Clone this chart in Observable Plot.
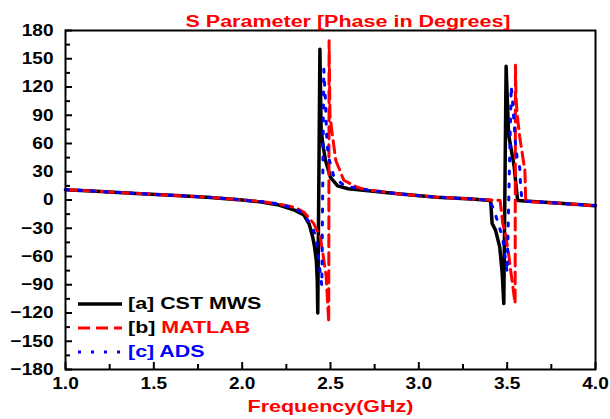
<!DOCTYPE html>
<html>
<head>
<meta charset="utf-8">
<script src="https://cdn.jsdelivr.net/npm/d3@7"></script>
<script src="https://cdn.jsdelivr.net/npm/@observablehq/plot@0.6"></script>
<style>
  html, body { margin: 0; padding: 0; background: #fff; }
  #wrap { position: relative; width: 610px; height: 419px; font-family: "Liberation Sans", Arial, sans-serif; }
  #legend { position: absolute; left: 76px; top: 292px; font-weight: bold; font-size: 17px; line-height: 24px; }
  #legend .row { display: flex; align-items: center; height: 24px; }
  #legend svg { margin-right: 6px; }
  #legend .lbl { display: inline-block; transform: scaleX(1.26); transform-origin: 0 50%; white-space: nowrap; }
</style>
</head>
<body>
<div id="wrap"><div id="legend"></div></div>
<script>
// ---- data ----
const titleText = "S Parameter [Phase in Degrees]";
const xLabel = "Frequency(GHz)";
const xTicks = [1.0, 1.5, 2.0, 2.5, 3.0, 3.5, 4.0];
const xMinorTicks = [1.25, 1.75, 2.25, 2.75, 3.25, 3.75];
const yTicks = [-180, -150, -120, -90, -60, -30, 0, 30, 60, 90, 120, 150, 180];
const yMinorTicks = [-165, -135, -105, -75, -45, -15, 15, 45, 75, 105, 135, 165];

const seriesNames = ["[a] CST MWS", "[b] MATLAB", "[c] ADS"];

const freqCST = [1.0, 1.2, 1.4, 1.6, 1.8, 2.0, 2.1, 2.2, 2.3, 2.35, 2.38, 2.40, 2.41, 2.42, 2.425, 2.428,
  2.440, 2.447, 2.46, 2.472, 2.50, 2.54, 2.6, 2.7, 2.88, 3.1, 3.3, 3.406,
  3.415, 3.434, 3.458, 3.472, 3.481, 3.494, 3.508, 3.54, 3.551, 3.56, 3.6, 3.8, 4.0];
const phaseCST = [11, 9, 7, 5, 3, 0, -2, -5, -11, -16, -26, -40, -50, -65, -85, -120,
  160, 74, 55, 42, 24, 15, 12, 10, 6.6, 3, 1, -0.5,
  -25, -32, -50, -78, -110, 142, 70, 35, 13.6, -0.5, -1, -3.5, -6];

const freqMATLAB = [1.0, 1.2, 1.4, 1.6, 1.8, 2.0, 2.1, 2.2, 2.3, 2.35, 2.405, 2.443, 2.46, 2.475, 2.49,
  2.492, 2.497, 2.51, 2.53, 2.575, 2.65, 2.7, 2.88, 3.1, 3.3, 3.46,
  3.475, 3.49, 3.508, 3.52, 3.545, 3.547, 3.55, 3.556, 3.571, 3.594, 3.6, 3.605, 3.8, 4.0];
const phaseMATLAB = [11, 9, 7, 5, 3, 0, -1.5, -4, -8, -13, -25, -40, -61, -80, -130,
  169, 90, 70, 42, 21, 13.6, 11, 6.6, 3, 1, -0.5,
  -25, -36, -57, -75, -110, 143, 110, 92, 67, 39, 33, -1.5, -3.5, -6];

const freqADS = [1.0, 1.2, 1.4, 1.6, 1.8, 2.0, 2.1, 2.2, 2.3, 2.35, 2.40, 2.42, 2.44, 2.451,
  2.462, 2.466, 2.47, 2.48, 2.49, 2.52, 2.58, 2.7, 2.88, 3.1, 3.3, 3.40,
  3.424, 3.453, 3.475, 3.50, 3.523, 3.53, 3.547, 3.556, 3.571, 3.575, 3.581, 3.59, 3.8, 4.0];
const phaseADS = [11, 9, 7, 5, 3, 0, -1.5, -4, -9, -15, -30, -41, -75, -91,
  139, 125, 111, 60, 45, 24, 15, 11, 6.6, 3, 1, 0,
  -10, -27, -41, -77, 121, 106, 60, 45, 34.5, 19, 5, -1, -3.5, -6];

// ---- build tables ----
const toRows = (fs, ps) => fs.map((f, i) => ({f, p: ps[i]}));
const cst = toRows(freqCST, phaseCST);
const matlab = toRows(freqMATLAB, phaseMATLAB);
const ads = toRows(freqADS, phaseADS);

const font = "Liberation Sans, Arial, sans-serif";
const redDash = "12,6";
const blueDot = "3,10";

const chart = Plot.plot({
  width: 610,
  height: 419,
  marginLeft: 65,
  marginRight: 15,
  marginTop: 30,
  marginBottom: 50,
  style: {fontFamily: font, background: "#fff", overflow: "visible"},
  x: {domain: [1, 4]},
  y: {domain: [-180, 180]},
  marks: [
    Plot.line(cst, {x: "f", y: "p", stroke: "#000", strokeWidth: 3.5}),
    Plot.line(matlab, {x: "f", y: "p", stroke: "#ff0000", strokeWidth: 3, strokeDasharray: redDash}),
    Plot.line(ads, {x: "f", y: "p", stroke: "#0000ff", strokeWidth: 3, strokeDasharray: blueDot}),
    // inward ticks
    Plot.axisY(yTicks, {anchor: "left", tickSize: 7, dx: 7, text: null, strokeWidth: 2, label: null}),
    Plot.axisY(yMinorTicks, {anchor: "left", tickSize: 5, dx: 5, text: null, strokeWidth: 2, label: null}),
    Plot.axisX(xTicks, {anchor: "bottom", tickSize: 7, dy: -7, text: null, strokeWidth: 2, label: null}),
    Plot.axisX(xMinorTicks, {anchor: "bottom", tickSize: 5, dy: -5, text: null, strokeWidth: 2, label: null}),
    // tick labels
    Plot.axisY(yTicks, {anchor: "left", tickSize: 0, tickPadding: 12, fontSize: 17, fontWeight: "bold", fill: "#000", label: null}),
    Plot.axisX(xTicks, {anchor: "bottom", tickSize: 0, tickPadding: 7, fontSize: 17, fontWeight: "bold", fill: "#000", label: null, tickFormat: d3.format(".1f")}),
    Plot.frame({stroke: "#000", strokeWidth: 2}),
    Plot.text([xLabel], {text: d => d, frameAnchor: "bottom", lineAnchor: "bottom", dy: 42, fontSize: 17, fontWeight: "bold", fill: "#ff0000"}),
    Plot.text([titleText], {text: d => d, frameAnchor: "top", lineAnchor: "bottom", dy: -4, dx: 17.5, fontSize: 16, fontWeight: "bold", fill: "#ff0000"})
  ]
});
document.getElementById("wrap").prepend(chart);

// horizontal stretch of the text, as in the reference
d3.select(chart).selectAll("text").each(function() {
  const t = this.textContent;
  let len;
  if (t === titleText) len = 325;
  else if (t === xLabel) len = 166;
  else len = this.getComputedTextLength() * 1.12;
  this.setAttribute("textLength", len);
  this.setAttribute("lengthAdjust", "spacingAndGlyphs");
});

// ---- legend (HTML overlay) ----
const legendItems = [
  {parts: [["[a] CST MWS", "#000"]], stroke: "#000", dash: null, w: 3.5},
  {parts: [["[b] ", "#000"], ["MATLAB", "#ff0000"]], stroke: "#ff0000", dash: redDash, w: 3},
  {parts: [["[c] ADS", "#0000ff"]], stroke: "#0000ff", dash: blueDot, w: 3}
];
const leg = d3.select("#legend");
legendItems.forEach(item => {
  const row = leg.append("div").attr("class", "row");
  const s = row.append("svg").attr("width", 46).attr("height", 10);
  s.append("line").attr("x1", 2).attr("x2", 46).attr("y1", 5).attr("y2", 5)
    .attr("stroke", item.stroke).attr("stroke-width", item.w)
    .attr("stroke-dasharray", item.dash);
  const t = row.append("span").attr("class", "lbl");
  item.parts.forEach(([txt, c]) => t.append("span").style("color", c).text(txt + (txt.endsWith(" ") ? "" : "")).style("white-space", "pre"));
});
</script>
</body>
</html>
